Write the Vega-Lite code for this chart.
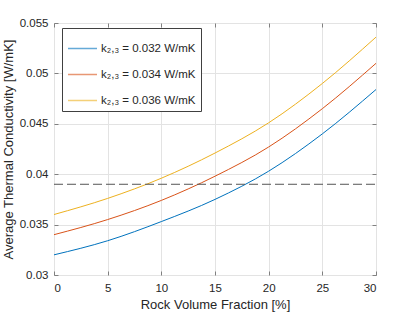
{
  "$schema": "https://vega.github.io/schema/vega-lite/v6.json",
  "width": 322,
  "height": 252,
  "autosize": "none",
  "padding": {"left": 54, "top": 23, "right": 39, "bottom": 37},
  "background": "white",
  "config": {
    "font": "Liberation Sans",
    "view": {"stroke": "#808080", "strokeWidth": 1},
    "axis": {
      "domain": false,
      "grid": true,
      "gridColor": "#e3e3e3",
      "gridWidth": 1,
      "tickColor": "#808080",
      "tickSize": -4,
      "labelFont": "Liberation Sans",
      "labelFontSize": 11.5,
      "labelColor": "#262626",
      "titleFont": "Liberation Sans",
      "titleFontSize": 13,
      "titleFontWeight": "normal",
      "titleColor": "#262626"
    }
  },
  "datasets": {
    "curves": [
      {"x": 0, "k": 0.032, "series": "k₂,₃ = 0.032 W/mK"},
      {"x": 5, "k": 0.0334, "series": "k₂,₃ = 0.032 W/mK"},
      {"x": 10, "k": 0.0353, "series": "k₂,₃ = 0.032 W/mK"},
      {"x": 15, "k": 0.0375, "series": "k₂,₃ = 0.032 W/mK"},
      {"x": 20, "k": 0.0403, "series": "k₂,₃ = 0.032 W/mK"},
      {"x": 25, "k": 0.0440, "series": "k₂,₃ = 0.032 W/mK"},
      {"x": 30, "k": 0.0484, "series": "k₂,₃ = 0.032 W/mK"},
      {"x": 0, "k": 0.034, "series": "k₂,₃ = 0.034 W/mK"},
      {"x": 5, "k": 0.0355, "series": "k₂,₃ = 0.034 W/mK"},
      {"x": 10, "k": 0.0374, "series": "k₂,₃ = 0.034 W/mK"},
      {"x": 15, "k": 0.0398, "series": "k₂,₃ = 0.034 W/mK"},
      {"x": 20, "k": 0.0427, "series": "k₂,₃ = 0.034 W/mK"},
      {"x": 25, "k": 0.0465, "series": "k₂,₃ = 0.034 W/mK"},
      {"x": 30, "k": 0.0510, "series": "k₂,₃ = 0.034 W/mK"},
      {"x": 0, "k": 0.036, "series": "k₂,₃ = 0.036 W/mK"},
      {"x": 5, "k": 0.0376, "series": "k₂,₃ = 0.036 W/mK"},
      {"x": 10, "k": 0.0396, "series": "k₂,₃ = 0.036 W/mK"},
      {"x": 15, "k": 0.0421, "series": "k₂,₃ = 0.036 W/mK"},
      {"x": 20, "k": 0.0451, "series": "k₂,₃ = 0.036 W/mK"},
      {"x": 25, "k": 0.0490, "series": "k₂,₃ = 0.036 W/mK"},
      {"x": 30, "k": 0.0536, "series": "k₂,₃ = 0.036 W/mK"}
    ],
    "ref": [{"x0": 0, "x1": 30, "y": 0.039}]
  },
  "layer": [
    {
      "data": {"name": "curves"},
      "mark": {"type": "line", "interpolate": "monotone", "strokeWidth": 1},
      "encoding": {
        "x": {
          "field": "x", "type": "quantitative",
          "scale": {"domain": [0, 30], "nice": false, "zero": false},
          "axis": {"orient": "bottom", "values": [0, 5, 10, 15, 20, 25, 30], "title": "Rock Volume Fraction [%]", "labelPadding": 11, "titlePadding": 5}
        },
        "y": {
          "field": "k", "type": "quantitative",
          "scale": {"domain": [0.03, 0.055], "nice": false, "zero": false},
          "axis": {"orient": "left", "values": [0.03, 0.035, 0.04, 0.045, 0.05, 0.055], "format": ".3~f", "title": "Average Thermal Conductivity [W/mK]", "labelPadding": 10, "titlePadding": 4}
        },
        "color": {
          "field": "series", "type": "nominal",
          "scale": {
            "domain": ["k₂,₃ = 0.032 W/mK", "k₂,₃ = 0.034 W/mK", "k₂,₃ = 0.036 W/mK"],
            "range": ["#0072BD", "#D95319", "#EDB120"]
          },
          "legend": {
            "orient": "none",
            "legendX": 8,
            "legendY": 5,
            "title": null,
            "symbolType": "stroke",
            "symbolSize": 841,
            "symbolStrokeWidth": 1.5,
            "symbolOpacity": 0.6,
            "labelFontSize": 11.5,
            "labelColor": "#262626",
            "labelOffset": 3,
            "rowPadding": 5,
            "padding": 5,
            "strokeColor": "#404040",
            "fillColor": "white"
          }
        }
      }
    },
    {
      "data": {"name": "ref"},
      "mark": {"type": "rule", "strokeDash": [9, 4], "color": "#555555", "strokeWidth": 1},
      "encoding": {
        "x": {
          "field": "x0", "type": "quantitative",
          "scale": {"domain": [0, 30], "nice": false, "zero": false},
          "axis": {"orient": "top", "values": [0, 5, 10, 15, 20, 25, 30], "labels": false, "grid": false, "title": null}
        },
        "x2": {"field": "x1"},
        "y": {
          "field": "y", "type": "quantitative",
          "scale": {"domain": [0.03, 0.055], "nice": false, "zero": false},
          "axis": {"orient": "right", "values": [0.03, 0.035, 0.04, 0.045, 0.05, 0.055], "labels": false, "grid": false, "title": null}
        }
      }
    }
  ],
  "resolve": {"axis": {"x": "independent", "y": "independent"}}
}
